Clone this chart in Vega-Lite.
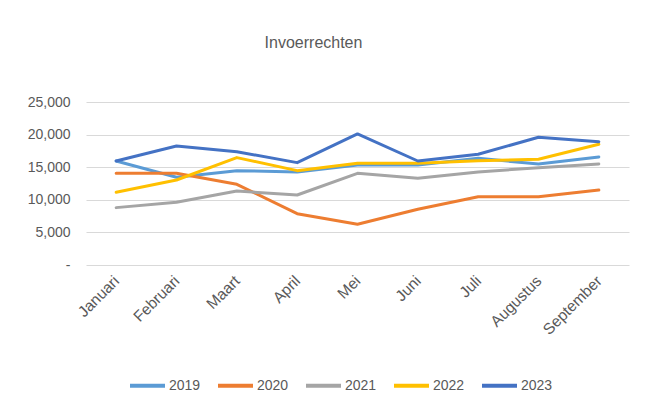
{
  "$schema": "https://vega.github.io/schema/vega-lite/v6.json",
  "autosize": {"type": "none"},
  "width": 543,
  "height": 163,
  "padding": {"left": 86, "top": 102, "right": 17, "bottom": 138},
  "background": "white",
  "title": {
    "text": "Invoerrechten",
    "anchor": "middle",
    "dx": -44,
    "offset": 44,
    "font": "Liberation Sans, sans-serif",
    "fontSize": 16,
    "fontWeight": "normal",
    "color": "#595959"
  },
  "data": {
    "values": [
      {"maand": "Januari", "jaar": "2019", "waarde": 15950},
      {"maand": "Februari", "jaar": "2019", "waarde": 13450},
      {"maand": "Maart", "jaar": "2019", "waarde": 14470},
      {"maand": "April", "jaar": "2019", "waarde": 14270},
      {"maand": "Mei", "jaar": "2019", "waarde": 15340},
      {"maand": "Juni", "jaar": "2019", "waarde": 15340},
      {"maand": "Juli", "jaar": "2019", "waarde": 16360},
      {"maand": "Augustus", "jaar": "2019", "waarde": 15490},
      {"maand": "September", "jaar": "2019", "waarde": 16570},
      {"maand": "Januari", "jaar": "2020", "waarde": 14060},
      {"maand": "Februari", "jaar": "2020", "waarde": 14060},
      {"maand": "Maart", "jaar": "2020", "waarde": 12370},
      {"maand": "April", "jaar": "2020", "waarde": 7870},
      {"maand": "Mei", "jaar": "2020", "waarde": 6240},
      {"maand": "Juni", "jaar": "2020", "waarde": 8540},
      {"maand": "Juli", "jaar": "2020", "waarde": 10480},
      {"maand": "Augustus", "jaar": "2020", "waarde": 10480},
      {"maand": "September", "jaar": "2020", "waarde": 11500},
      {"maand": "Januari", "jaar": "2021", "waarde": 8800},
      {"maand": "Februari", "jaar": "2021", "waarde": 9610},
      {"maand": "Maart", "jaar": "2021", "waarde": 11350},
      {"maand": "April", "jaar": "2021", "waarde": 10740},
      {"maand": "Mei", "jaar": "2021", "waarde": 14060},
      {"maand": "Juni", "jaar": "2021", "waarde": 13290},
      {"maand": "Juli", "jaar": "2021", "waarde": 14270},
      {"maand": "Augustus", "jaar": "2021", "waarde": 14930},
      {"maand": "September", "jaar": "2021", "waarde": 15490},
      {"maand": "Januari", "jaar": "2022", "waarde": 11150},
      {"maand": "Februari", "jaar": "2022", "waarde": 13040},
      {"maand": "Maart", "jaar": "2022", "waarde": 16470},
      {"maand": "April", "jaar": "2022", "waarde": 14470},
      {"maand": "Mei", "jaar": "2022", "waarde": 15600},
      {"maand": "Juni", "jaar": "2022", "waarde": 15600},
      {"maand": "Juli", "jaar": "2022", "waarde": 16000},
      {"maand": "Augustus", "jaar": "2022", "waarde": 16210},
      {"maand": "September", "jaar": "2022", "waarde": 18510},
      {"maand": "Januari", "jaar": "2023", "waarde": 15950},
      {"maand": "Februari", "jaar": "2023", "waarde": 18250},
      {"maand": "Maart", "jaar": "2023", "waarde": 17380},
      {"maand": "April", "jaar": "2023", "waarde": 15700},
      {"maand": "Mei", "jaar": "2023", "waarde": 20100},
      {"maand": "Juni", "jaar": "2023", "waarde": 15950},
      {"maand": "Juli", "jaar": "2023", "waarde": 16980},
      {"maand": "Augustus", "jaar": "2023", "waarde": 19590},
      {"maand": "September", "jaar": "2023", "waarde": 18920}
    ]
  },
  "mark": {"type": "line", "strokeWidth": 3, "strokeCap": "round", "strokeJoin": "round"},
  "encoding": {
    "x": {
      "field": "maand",
      "type": "ordinal",
      "sort": ["Januari", "Februari", "Maart", "April", "Mei", "Juni", "Juli", "Augustus", "September"],
      "scale": {"type": "point", "padding": 0.5},
      "axis": {
        "title": null,
        "labelAngle": -45,
        "labelAlign": "right",
        "labelBaseline": "middle",
        "labelPadding": 13,
        "ticks": false,
        "domain": false,
        "grid": false,
        "labelFont": "Liberation Sans, sans-serif",
        "labelFontSize": 15.5,
        "labelColor": "#595959"
      }
    },
    "y": {
      "field": "waarde",
      "type": "quantitative",
      "scale": {"domain": [0, 25000], "nice": false},
      "axis": {
        "title": null,
        "values": [0, 5000, 10000, 15000, 20000, 25000],
        "labelExpr": "datum.value === 0 ? '-\u00a0\u00a0\u00a0' : format(datum.value, ',')",
        "ticks": false,
        "domain": false,
        "labelPadding": 16,
        "labelFont": "Liberation Sans, sans-serif",
        "labelFontSize": 14,
        "labelColor": "#595959",
        "gridColor": "#d9d9d9",
        "gridWidth": 1.2
      }
    },
    "color": {
      "field": "jaar",
      "type": "nominal",
      "scale": {
        "domain": ["2019", "2020", "2021", "2022", "2023"],
        "range": ["#5B9BD5", "#ED7D31", "#A5A5A5", "#FFC000", "#4472C4"]
      },
      "legend": {
        "title": null,
        "orient": "none",
        "direction": "horizontal",
        "legendX": 42,
        "legendY": 264,
        "symbolType": "stroke",
        "symbolSize": 1225,
        "symbolStrokeWidth": 4,
        "labelOffset": 2,
        "columnPadding": 9,
        "labelFont": "Liberation Sans, sans-serif",
        "labelFontSize": 14,
        "labelColor": "#595959"
      }
    }
  },
  "config": {
    "view": {"stroke": null}
  }
}
